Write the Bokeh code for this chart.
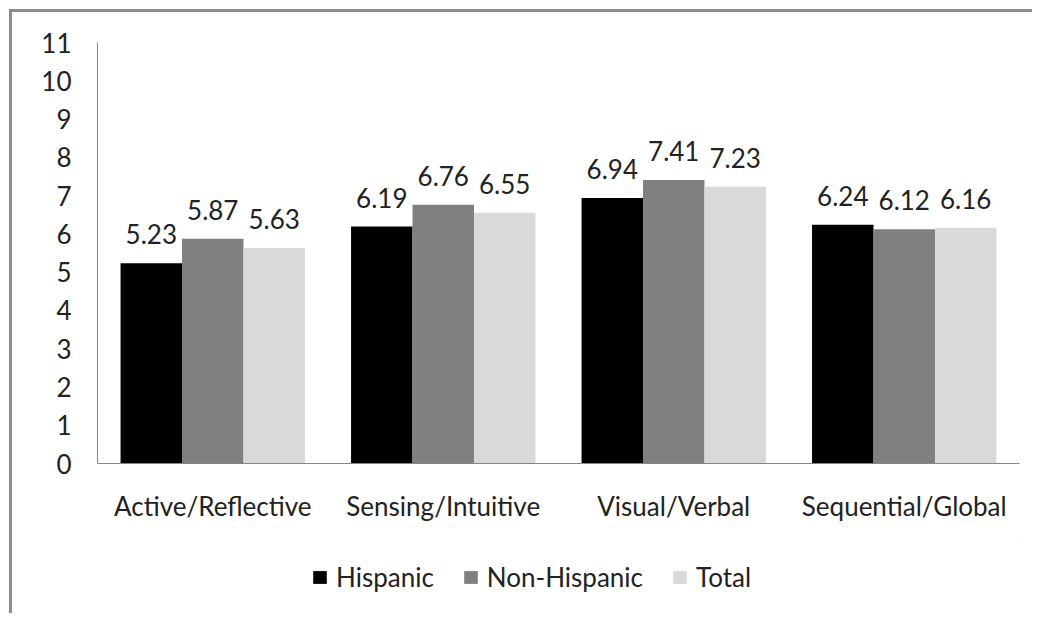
from bokeh.plotting import figure
from bokeh.layouts import column
from bokeh.models import FactorRange, Range1d, FixedTicker, Legend, LegendItem, ColumnDataSource
from bokeh.transform import dodge
from bokeh.core.properties import value
from bokeh.embed import file_html
from bokeh.resources import INLINE

categories = ["Active/Reflective", "Sensing/Intuitive", "Visual/Verbal", "Sequential/Global"]
series_names = ["Hispanic", "Non-Hispanic", "Total"]
hispanic = [5.23, 6.19, 6.94, 6.24]
non_hispanic = [5.87, 6.76, 7.41, 6.12]
total = [5.63, 6.55, 7.23, 6.16]
y_ticks = list(range(0, 12))

colors = ["#000000", "#808080", "#d9d9d9"]
FONT = "Lato"
FS = "26px"
TEXT_COLOR = "#222222"

src = ColumnDataSource(dict(
    cat=categories,
    h=hispanic, n=non_hispanic, t=total,
    hl=[f"{v:.2f}" for v in hispanic],
    nl=[f"{v:.2f}" for v in non_hispanic],
    tl=[f"{v:.2f}" for v in total],
))

p = figure(x_range=FactorRange(*categories, range_padding=0), y_range=Range1d(0, 11),
           width=1020, height=531, output_backend="svg", toolbar_location=None,
           min_border_left=85, min_border_top=30, min_border_right=13, min_border_bottom=80)
p.outline_line_color = None
p.xgrid.grid_line_color = None
p.ygrid.grid_line_color = None

bw = 0.8 / 3
for off, col, key, lab in zip([-bw, 0, bw], colors, ["h", "n", "t"], ["hl", "nl", "tl"]):
    p.vbar(x=dodge("cat", off, range=p.x_range), top=key, width=bw, source=src,
           fill_color=col, line_color=None)
    p.text(x=dodge("cat", off, range=p.x_range), y=key, text=lab, source=src,
           text_align="center", text_baseline="alphabetic", y_offset=-29,
           text_font=value(FONT), text_font_size=FS, text_color=TEXT_COLOR)

p.yaxis.ticker = FixedTicker(ticks=y_ticks)
for ax in (p.xaxis, p.yaxis):
    ax.axis_line_color = "#868686"
    ax.major_tick_line_color = None
    ax.minor_tick_line_color = None
    ax.major_label_text_font = FONT
    ax.major_label_text_font_size = FS
    ax.major_label_text_color = TEXT_COLOR
p.yaxis.major_label_standoff = 20
p.xaxis.major_label_standoff = 20

# legend strip
p2 = figure(width=1020, height=70, output_backend="svg", toolbar_location=None,
            x_range=Range1d(0, 1), y_range=Range1d(0, 1),
            x_axis_location=None, y_axis_location=None,
            min_border_left=0, min_border_right=0, min_border_top=0, min_border_bottom=0)
p2.outline_line_color = None
p2.xgrid.grid_line_color = None
p2.ygrid.grid_line_color = None
dummies = [p2.vbar(x=[5], top=[6], bottom=[5], width=0.5, fill_color=c, line_color=None)
           for c in colors]
legend = Legend(items=[LegendItem(label=n, renderers=[r]) for n, r in zip(series_names, dummies)],
                orientation="horizontal", location=(214, 20),
                label_text_font=FONT, label_text_font_size=FS, label_text_color=TEXT_COLOR,
                glyph_width=17, glyph_height=16, label_standoff=8, spacing=28,
                border_line_color=None, background_fill_alpha=0, margin=0, padding=0)
p2.add_layout(legend, "center")

layout = column(p, p2, spacing=0, styles={
    "margin-left": "9px", "margin-top": "9px",
    "border-left": "3px solid #8c8c8c", "border-top": "3px solid #8c8c8c"})

open("out.html", "w").write(file_html(layout, INLINE))
